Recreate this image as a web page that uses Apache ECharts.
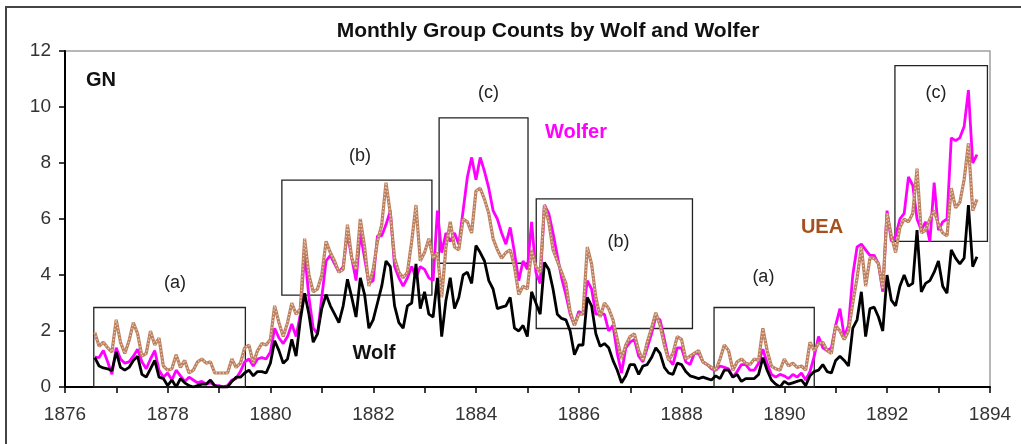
<!DOCTYPE html>
<html>
<head>
<meta charset="utf-8">
<script src="https://cdn.jsdelivr.net/npm/echarts@6/dist/echarts.min.js"></script>
<style>
  html, body { margin: 0; padding: 0; background: #fff; }
  #main { width: 1021px; height: 444px; }
</style>
</head>
<body>
<div id="main"></div>
<script>
// monthly samples, first month ~ Aug 1876
var startYear = 1876.58;

var wolf = [1.05,0.75,0.68,0.65,0.58,1.25,0.7,0.6,0.7,0.95,1.1,0.45,0.35,0.65,0.95,0.35,0.3,0.05,0.25,0,0.3,0.15,0.05,0,0.05,0.1,0.1,0.25,0.05,0,0,0,0.2,0.35,0.35,0.5,0.6,
  0.4,0.55,0.55,0.5,0.85,1.65,1.3,0.85,1.0,1.7,1.1,2.4,3.35,2.6,1.6,1.9,2.8,3.3,2.9,2.6,2.3,2.9,3.85,3.2,2.5,3.9,3.3,2.1,2.4,3.0,3.6,4.5,4.3,2.9,2.3,2.1,
  2.9,3.0,4.4,2.8,3.4,2.6,2.5,3.9,1.8,3.1,3.9,2.8,3.2,4.0,4.1,3.7,5.05,4.8,4.5,3.8,3.5,2.8,2.85,2.9,3.2,2.1,2.0,2.2,1.8,3.4,3.0,2.6,
  4.45,4.2,3.5,2.6,2.45,2.4,2.0,1.15,1.5,1.5,3.2,2.9,1.9,1.45,1.55,1.4,0.95,0.6,0.15,0.4,0.8,0.8,0.45,0.75,0.8,1.05,1.4,1.2,0.7,0.5,0.45,0.85,0.8,0.55,0.4,0.35,0.3,
  0.35,0.3,0.25,0.4,0.3,0.6,0.6,0.35,0.45,0.2,0.3,0.3,0.3,0.45,1.05,0.6,0.25,0.1,0,0.2,0.1,0.15,0.2,0.25,0.05,0.4,0.55,0.6,0.8,0.55,0.5,0.95,1.1,0.95,0.75,2.1,
  2.4,3.4,1.8,2.8,2.85,2.5,2.0,4.0,3.1,2.9,3.6,4.0,3.6,3.7,5.6,3.4,3.7,3.8,4.1,4.5,3.6,3.35,4.9,4.6,4.4,4.6,6.5,4.3,4.65];

var wolfer = [1.07,1.05,1.3,0.9,0.45,1.4,1.0,0.85,0.9,1.1,1.35,0.9,0.65,1.0,1.3,0.6,0.35,0.5,0.25,0.6,0.4,0.2,0.35,0.25,0.15,0.2,0.1,0.15,0.05,0.05,0,0.05,0.25,0.3,0.55,0.9,1.0,
  0.75,1.0,1.05,1.0,1.25,2.1,1.75,1.55,1.8,2.25,1.8,2.6,4.8,3.2,2.1,1.9,3.2,4.5,4.7,4.4,4.1,4.3,5.5,4.6,3.8,5.5,4.6,3.7,3.8,5.4,5.4,5.8,6.3,4.3,3.9,3.6,
  3.9,4.3,3.9,4.3,4.2,3.9,3.8,6.3,4.8,5.5,5.2,5.5,5.1,6.3,7.5,8.2,7.4,8.2,7.7,7.1,6.3,6.0,5.5,5.1,5.7,4.8,3.8,4.5,4.2,5.9,4.1,3.7,
  6.5,6.2,5.5,4.7,3.9,3.3,2.6,2.2,2.7,2.6,3.8,3.5,2.6,2.6,2.6,2.0,2.2,1.2,0.5,1.4,1.6,1.7,1.1,0.9,1.4,1.9,2.5,2.4,1.7,1.0,0.8,1.4,1.4,0.9,0.8,1.2,1.2,
  0.9,0.8,0.65,0.6,0.75,0.7,0.65,0.35,0.55,0.8,0.8,0.6,0.6,0.85,1.35,0.85,0.45,0.35,0.45,0.4,0.3,0.45,0.35,0.5,0.25,0.55,1.1,1.8,1.4,1.3,1.4,2.2,2.8,1.8,2.2,4.0,
  5.0,5.1,4.9,4.7,4.7,4.4,3.4,6.3,5.2,5.4,6.0,6.2,7.5,7.2,6.0,5.6,5.9,5.2,7.3,5.6,5.9,6.0,8.9,8.8,8.9,9.3,10.6,8.0,8.3];

var uea = [1.95,1.45,1.6,1.4,1.25,2.4,1.6,1.2,1.65,2.3,1.9,1.1,1.2,2.0,1.5,1.75,0.75,0.6,0.65,1.15,0.7,0.95,0.5,0.6,0.9,1.0,0.85,0.9,0.5,0.5,0.5,0.5,1.0,0.7,0.85,1.4,1.5,
  0.85,1.3,1.55,1.5,1.7,2.9,2.3,1.8,2.3,3.0,2.6,2.8,5.3,4.0,3.4,3.5,4.0,5.2,4.8,4.5,4.1,4.2,5.8,4.6,4.2,6.0,5.0,3.6,4.2,5.2,5.8,7.3,6.2,4.6,4.1,3.9,
  4.1,5.2,6.5,4.5,4.8,5.3,4.6,4.8,3.2,5.0,5.9,5.0,4.9,6.0,5.9,5.5,7.0,7.1,6.7,6.2,5.3,4.9,4.6,4.8,4.9,4.3,3.3,3.6,3.5,4.9,4.3,4.1,
  6.5,5.9,4.9,4.5,4.1,3.7,2.7,2.2,2.6,2.6,5.0,4.4,3.2,2.5,3.0,2.8,2.4,1.7,1.0,1.5,1.8,1.9,1.3,0.95,1.6,2.1,2.65,2.2,1.5,0.95,1.2,1.8,1.7,1.0,1.1,1.2,1.3,
  0.9,0.8,0.7,0.6,1.0,1.5,1.3,0.6,0.9,1.0,0.85,0.8,1.0,0.95,2.1,1.3,0.75,0.65,0.6,1.0,0.75,0.85,0.7,0.75,0.6,1.6,1.3,1.55,1.6,1.3,1.2,2.2,2.0,1.7,2.0,3.0,
  3.9,5.0,3.6,4.6,4.6,4.4,3.5,6.2,5.4,4.8,5.7,6.0,5.9,6.2,7.8,5.5,5.6,6.0,6.3,5.8,5.5,5.4,7.1,6.4,6.6,7.4,8.7,6.3,6.7];

// annotation boxes [x1, y1, x2, y2] in axis units, and their tags
var boxes = [[1876.56,0,1879.51,2.84],[1880.22,3.28,1883.14,7.39],[1883.28,4.42,1885.01,9.61],
             [1885.17,2.09,1888.21,6.72],[1888.63,0,1890.58,2.84],[1892.15,5.20,1893.95,11.48]];
var boxTags = ['(a)','(b)','(c)','(b)','(a)','(c)'];
var tagPos = [[1878.14,3.72],[1881.74,8.25],[1884.24,10.49],[1886.77,5.18],[1889.59,3.91],[1892.95,10.51]];

var font = 'Liberation Sans, Arial, sans-serif';

function pairs(arr){
	return arr.map(function(v, i){ return [startYear + i / 12, v]; });
}

var chart = echarts.init(document.getElementById('main'));

var option = {
	animation: false,
	backgroundColor: '#fff',
	grid: {
		left: 65, right: 31, top: 51, bottom: 57,
		show: true, borderColor: '#a0a0a0', borderWidth: 1.5
	},
	xAxis: {
		type: 'value', min: 1876, max: 1894, interval: 2,
		axisLine: { show: true, onZero: false, lineStyle: { color: '#000', width: 2 } },
		axisTick: { show: true, length: 6, lineStyle: { color: '#000', width: 1.5 } },
		minorTick: { show: true, splitNumber: 2, length: 6, lineStyle: { color: '#000', width: 1.5 } },
		splitLine: { show: false },
		axisLabel: { fontSize: 19, color: '#333', margin: 18, fontFamily: font,
			formatter: function(v){ return String(v); } }
	},
	yAxis: {
		type: 'value', min: 0, max: 12, interval: 2,
		axisLine: { show: true, lineStyle: { color: '#000', width: 2 } },
		axisTick: { show: true, length: 6, lineStyle: { color: '#000', width: 1.5 } },
		splitLine: { show: false },
		axisLabel: { fontSize: 19, color: '#333', margin: 14, fontFamily: font }
	},
	graphic: [
		{ type: 'rect', shape: { x: 6, y: 7, width: 1030, height: 460 },
		  style: { fill: 'none', stroke: '#444', lineWidth: 2 }, silent: true },
		{ type: 'text', x: 548, y: 31, style: { text: 'Monthly Group Counts by Wolf and Wolfer',
		  font: 'bold 21px ' + font, fill: '#111', textAlign: 'center', textVerticalAlign: 'middle' } },
		{ type: 'text', x: 101, y: 80, style: { text: 'GN', font: 'bold 20px ' + font, fill: '#111',
		  textAlign: 'center', textVerticalAlign: 'middle' } },
		{ type: 'text', x: 374, y: 353, style: { text: 'Wolf', font: 'bold 20px ' + font, fill: '#111',
		  textAlign: 'center', textVerticalAlign: 'middle' } },
		{ type: 'text', x: 576, y: 132, style: { text: 'Wolfer', font: 'bold 20px ' + font, fill: '#ff00ff',
		  textAlign: 'center', textVerticalAlign: 'middle' } },
		{ type: 'text', x: 822, y: 227, style: { text: 'UEA', font: 'bold 20px ' + font, fill: '#a5501e',
		  textAlign: 'center', textVerticalAlign: 'middle' } }
	],
	series: [{
		name: 'Wolfer', type: 'line', data: pairs(wolfer), symbol: 'none', z: 2,
		lineStyle: { color: '#ff00ff', width: 2.8 }
	}, {
		name: 'UEA', type: 'line', data: pairs(uea), symbol: 'none', z: 3,
		lineStyle: { color: '#bc8060', width: 3.2 }
	}, {
		name: 'UEA dots', type: 'line', data: pairs(uea), symbol: 'none', z: 4,
		lineStyle: { color: '#ecd0ba', width: 1.3, type: [1.3, 2.2] }
	}, {
		name: 'Wolf', type: 'line', data: pairs(wolf), symbol: 'none', z: 5,
		lineStyle: { color: '#000', width: 2.8 },
		markArea: {
			silent: true,
			itemStyle: { color: 'rgba(0,0,0,0)', borderColor: '#222', borderWidth: 1.3 },
			label: { show: false },
			data: boxes.map(function(b){ return [{ coord: [b[0], b[1]] }, { coord: [b[2], b[3]] }]; })
		},
		markPoint: {
			silent: true, symbol: 'circle', symbolSize: 0,
			label: { show: true, position: 'inside', fontSize: 18, color: '#222', fontFamily: font,
				formatter: function(p){ return p.name; } },
			data: tagPos.map(function(p, i){ return { name: boxTags[i], coord: p }; })
		}
	}]
};

chart.setOption(option);
</script>
</body>
</html>
